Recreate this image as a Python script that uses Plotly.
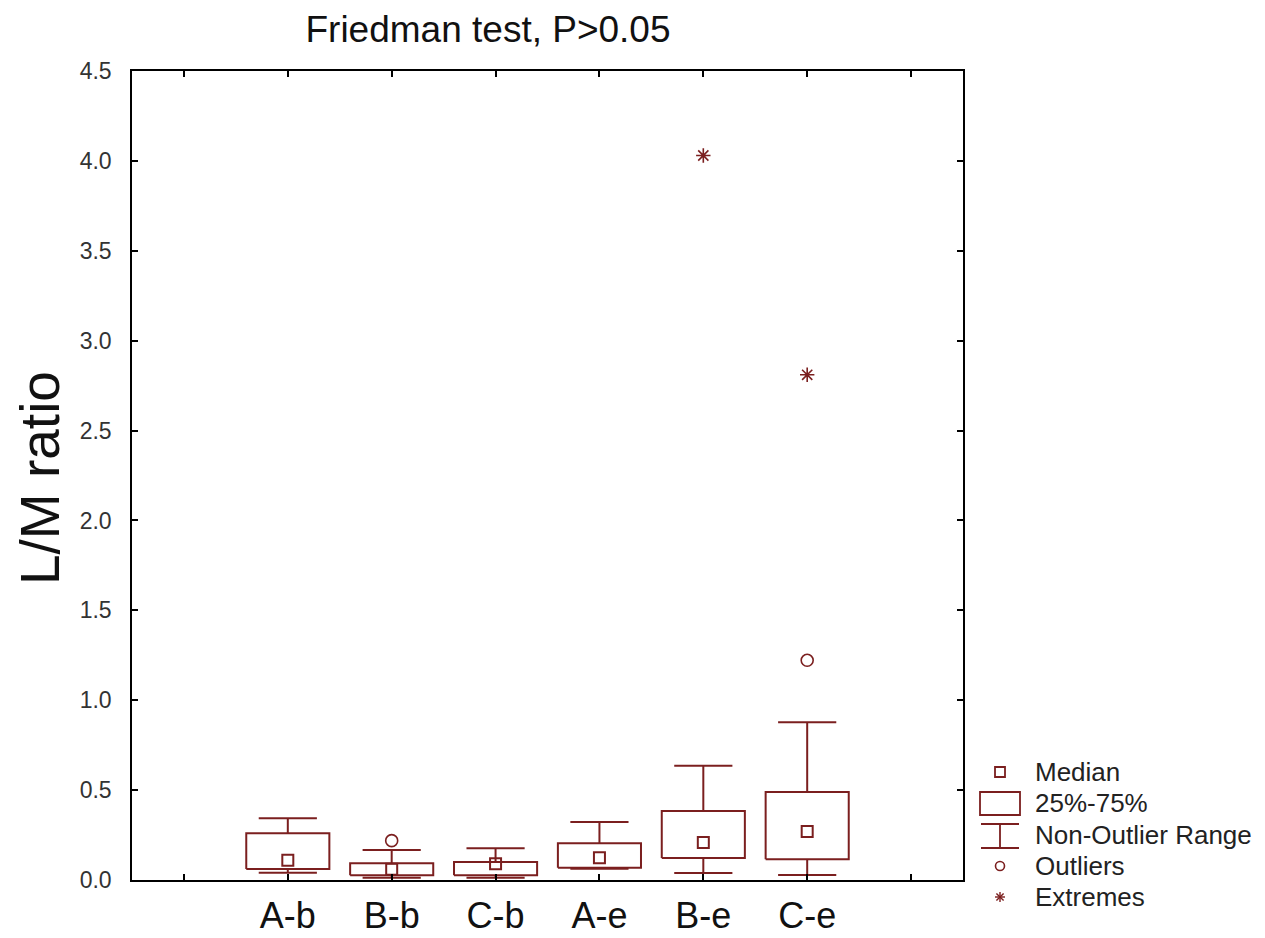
import plotly.graph_objects as go

# Group labels and box-plot statistics for the L/M ratio
groups = ["A-b", "B-b", "C-b", "A-e", "B-e", "C-e"]
medians = [0.11, 0.06, 0.09, 0.124, 0.208, 0.27]
q1 = [0.061, 0.026, 0.026, 0.068, 0.122, 0.115]
q3 = [0.26, 0.093, 0.10, 0.204, 0.384, 0.489]
whisk_lo = [0.041, 0.013, 0.013, 0.063, 0.039, 0.028]
whisk_hi = [0.343, 0.167, 0.176, 0.323, 0.636, 0.877]
outlier_x = ["B-b", "C-e"]
outlier_y = [0.219, 1.222]
extreme_x = ["B-e", "C-e"]
extreme_y = [4.03, 2.81]

COLOR = "#7b1f1f"
FONT = "Arial, Liberation Sans, sans-serif"
W, H = 1265, 938
L, R, T, B = 132, 302, 71, 58
XR = [-1.5, 6.5]
YR = [0, 4.5]
BOX_HALF = 0.4
CAP_HALF = 0.28

pos = {g: i for i, g in enumerate(groups)}
pw, ph = W - L - R, H - T - B


# helpers to place legend items by pixel position on the page
def px(x):
    return (x - L) / pw


def py(y):
    return (H - B - y) / ph


fig = go.Figure()

# Boxes (25%-75%) and whiskers (non-outlier range) as line segments in data coordinates
bx, by = [], []
for i, g in enumerate(groups):
    x0, x1 = i - BOX_HALF, i + BOX_HALF
    bx += [x0, x1, x1, x0, x0, None]
    by += [q1[i], q1[i], q3[i], q3[i], q1[i], None]
    bx += [i, i, None, i - CAP_HALF, i + CAP_HALF, None]
    by += [q3[i], whisk_hi[i], None, whisk_hi[i], whisk_hi[i], None]
    bx += [i, i, None, i - CAP_HALF, i + CAP_HALF, None]
    by += [q1[i], whisk_lo[i], None, whisk_lo[i], whisk_lo[i], None]
fig.add_trace(go.Scatter(x=bx, y=by, mode="lines",
                         line=dict(color=COLOR, width=2), hoverinfo="skip"))

# Medians
fig.add_trace(go.Scatter(x=list(range(len(groups))), y=medians, mode="markers",
                         marker=dict(symbol="square-open", size=11, color=COLOR,
                                     line=dict(width=2))))
# Outliers
fig.add_trace(go.Scatter(x=[pos[g] for g in outlier_x], y=outlier_y, mode="markers",
                         marker=dict(symbol="circle-open", size=12, color=COLOR,
                                     line=dict(width=1.6))))
# Extremes
fig.add_trace(go.Scatter(x=[pos[g] for g in extreme_x], y=extreme_y, mode="markers",
                         marker=dict(symbol="asterisk-open", size=12, color=COLOR,
                                     line=dict(width=1.6))))

# Legend on the right, drawn from shapes and text
shapes = []
annots = []
icon_cx = 1000
text_x = 1033
rows = [("Median", 772), ("25%-75%", 803), ("Non-Outlier Range", 835),
        ("Outliers", 866), ("Extremes", 897)]
for label, yy in rows:
    annots.append(dict(x=px(text_x), y=py(yy), xref="paper", yref="paper",
                       text=label, showarrow=False, xanchor="left", yanchor="middle",
                       font=dict(family=FONT, size=26, color="#222")))


def seg(x0, y0, x1, y1, w=1.8):
    shapes.append(dict(type="line", xref="paper", yref="paper",
                       x0=px(x0), y0=py(y0), x1=px(x1), y1=py(y1),
                       line=dict(color=COLOR, width=w)))


# median icon
shapes.append(dict(type="rect", xref="paper", yref="paper",
                   x0=px(icon_cx - 5), x1=px(icon_cx + 5), y0=py(777), y1=py(767),
                   line=dict(color=COLOR, width=1.8)))
# box icon
shapes.append(dict(type="rect", xref="paper", yref="paper",
                   x0=px(980), x1=px(1020), y0=py(815), y1=py(792),
                   line=dict(color=COLOR, width=1.8)))
# whisker icon
seg(981, 824, 1019, 824)
seg(icon_cx, 824, icon_cx, 848)
seg(981, 848, 1019, 848)
# outlier icon
shapes.append(dict(type="circle", xref="paper", yref="paper",
                   x0=px(icon_cx - 4.5), x1=px(icon_cx + 4.5), y0=py(870.5), y1=py(861.5),
                   line=dict(color=COLOR, width=1.6)))
# extreme icon (asterisk)
r = 5
seg(icon_cx - r, 897, icon_cx + r, 897, 1.4)
seg(icon_cx, 897 - r, icon_cx, 897 + r, 1.4)
seg(icon_cx - 3.6, 893.4, icon_cx + 3.6, 900.6, 1.4)
seg(icon_cx - 3.6, 900.6, icon_cx + 3.6, 893.4, 1.4)

# Y-axis title
annots.append(dict(x=px(40), y=py(478), xref="paper", yref="paper", text="L/M ratio",
                   textangle=-90, showarrow=False, xanchor="center", yanchor="middle",
                   font=dict(family=FONT, size=55, color="#111")))

fig.update_layout(
    width=W, height=H,
    margin=dict(l=L, r=R, t=T, b=B, autoexpand=False),
    plot_bgcolor="white", paper_bgcolor="white",
    showlegend=False,
    title=dict(text="Friedman test, P>0.05", x=px(488), xref="paper", xanchor="center",
               y=1 - 29 / H, yanchor="middle",
               font=dict(family=FONT, size=37, color="#111")),
    xaxis=dict(range=XR, tickmode="array",
               tickvals=list(range(-1, len(groups) + 1)),
               ticktext=[""] + groups + [""],
               ticks="inside", ticklen=6, tickwidth=1.5, tickcolor="black",
               showline=True, linecolor="black", linewidth=1.5, mirror="ticks",
               showgrid=False, zeroline=False, ticklabelstandoff=3, automargin=False,
               tickfont=dict(family=FONT, size=36, color="#111")),
    yaxis=dict(range=YR, dtick=0.5, tickformat=".1f",
               ticks="inside", ticklen=6, tickwidth=1.5, tickcolor="black",
               showline=True, linecolor="black", linewidth=1.5, mirror="ticks",
               showgrid=False, zeroline=False, ticklabelstandoff=14, automargin=False,
               tickfont=dict(family=FONT, size=23, color="#333")),
    shapes=shapes,
    annotations=annots,
)
fig.update_traces(cliponaxis=False)

fig.write_html("out.html")
